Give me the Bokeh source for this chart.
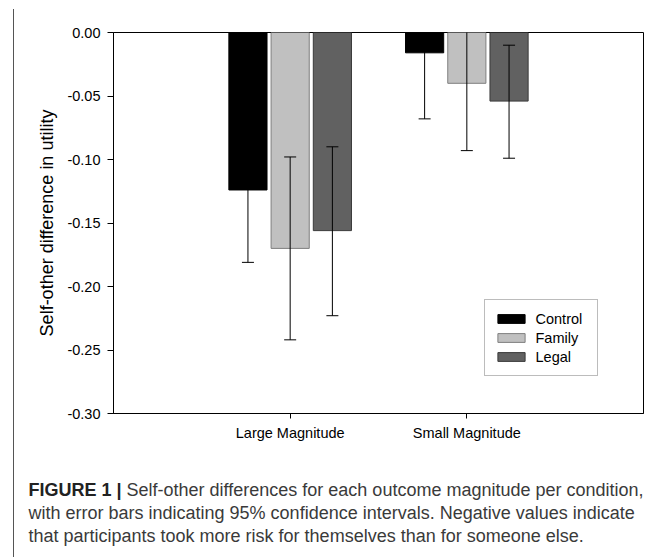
from bokeh.plotting import figure
from bokeh.models import (ColumnDataSource, Range1d, FixedTicker, NumeralTickFormatter,
                          Legend, LegendItem, Div)
from bokeh.layouts import column
from bokeh.embed import file_html
from bokeh.resources import INLINE

# ---- data ----
groups = ["Large Magnitude", "Small Magnitude"]
conditions = ["Control", "Family", "Legal"]
control_mean = [-0.124, -0.016]
control_lower = [-0.181, -0.068]
control_upper = [-0.067, 0.036]
family_mean = [-0.170, -0.040]
family_lower = [-0.242, -0.093]
family_upper = [-0.098, 0.013]
legal_mean = [-0.156, -0.054]
legal_lower = [-0.223, -0.099]
legal_upper = [-0.090, -0.010]
y_ticks = [0.0, -0.05, -0.10, -0.15, -0.20, -0.25, -0.30]

FONT = "Liberation Sans"
group_pos = [1, 2]
offsets = [-0.239, 0.0, 0.239]
bar_w = 0.216
fills = ["#000000", "#c0c0c0", "#616161"]
edges = ["#000000", "#7f7f7f", "#3a3a3a"]
FRAME = "#555555"

series = [
    (control_mean, control_lower, control_upper),
    (family_mean, family_lower, family_upper),
    (legal_mean, legal_lower, legal_upper),
]

p = figure(width=654, height=460, output_backend="svg", toolbar_location=None,
           x_range=Range1d(0, 3), y_range=Range1d(-0.30, 0.0),
           min_border_left=99, min_border_right=26, min_border_top=23, min_border_bottom=56,
           frame_width=529, frame_height=381,
           styles={"border-left": "1.5px solid " + FRAME})
p.grid.visible = False
p.outline_line_color = "#000000"
p.outline_line_width = 1
p.background_fill_color = "white"
p.border_fill_color = "white"

renderers = []
for i, (m, lo, hi) in enumerate(series):
    xs = [g + offsets[i] for g in group_pos]
    src = ColumnDataSource(dict(x=xs, top=[0.0] * len(m), bottom=m))
    r = p.vbar(x="x", top="top", bottom="bottom", width=bar_w, source=src,
               fill_color=fills[i], line_color=edges[i], line_width=1)
    renderers.append(r)

for i, (m, lo, hi) in enumerate(series):
    xs = [g + offsets[i] for g in group_pos]
    src = ColumnDataSource(dict(x=xs, lower=lo, upper=hi))
    p.segment(x0="x", y0="lower", x1="x", y1="upper", source=src,
              line_color="#000000", line_width=1)
    p.dash(x="x", y="lower", size=12, source=src, line_color="#000000", line_width=1)
    p.dash(x="x", y="upper", size=12, source=src, line_color="#000000", line_width=1)

# axes
yax = p.yaxis[0]
yax.ticker = FixedTicker(ticks=y_ticks)
yax.formatter = NumeralTickFormatter(format="0.00")
yax.axis_label = "Self-other difference in utility"
yax.axis_label_text_font = FONT
yax.axis_label_text_font_size = "18px"
yax.axis_label_text_font_style = "normal"
yax.axis_label_text_color = "#000000"
yax.axis_label_standoff = 7
yax.major_label_text_font = FONT
yax.major_label_text_font_size = "14.5px"
yax.major_label_text_color = "#000000"
yax.major_label_standoff = 7
yax.major_tick_out = 6
yax.major_tick_in = 0
yax.minor_tick_out = 0
yax.minor_tick_in = 0
yax.axis_line_color = "#000000"
yax.major_tick_line_color = "#000000"

xax = p.xaxis[0]
xax.ticker = FixedTicker(ticks=group_pos)
xax.major_label_overrides = {g: lab for g, lab in zip(group_pos, groups)}
xax.major_label_text_font = FONT
xax.major_label_text_font_size = "14.5px"
xax.major_label_text_color = "#000000"
xax.major_label_standoff = 6
xax.major_tick_out = 5
xax.major_tick_in = 0
xax.minor_tick_out = 0
xax.minor_tick_in = 0
xax.axis_line_color = "#000000"
xax.major_tick_line_color = "#000000"

legend = Legend(items=[LegendItem(label=c, renderers=[r]) for c, r in zip(conditions, renderers)],
                location=(371, 37), orientation="vertical",
                glyph_width=34, glyph_height=11, label_height=19, spacing=0,
                label_standoff=8, padding=9, margin=0, label_width=52,
                label_text_font=FONT, label_text_font_size="14.5px",
                label_text_color="#000000",
                border_line_color="#7a7a7a", border_line_width=1,
                background_fill_color="white", background_fill_alpha=1.0)
p.add_layout(legend, "center")

caption = Div(
    text=("<b style='color:#222'>FIGURE 1 |</b> Self-other differences for each outcome magnitude per condition,<br>"
          "with error bars indicating 95% confidence intervals. Negative values indicate<br>"
          "that participants took more risk for themselves than for someone else."),
    width=654, height=88, margin=(0, 0, 0, 0),
    styles={"font-family": FONT, "font-size": "18px", "line-height": "23px",
            "color": "#3a3a3a", "padding-left": "15px", "padding-top": "10px",
            "white-space": "nowrap", "box-sizing": "border-box", "background": "white",
            "border-left": "1.5px solid " + FRAME})

layout = column(p, caption, styles={"margin-left": "12.5px", "margin-top": "9px"})

open("out.html", "w").write(file_html(layout, INLINE))
